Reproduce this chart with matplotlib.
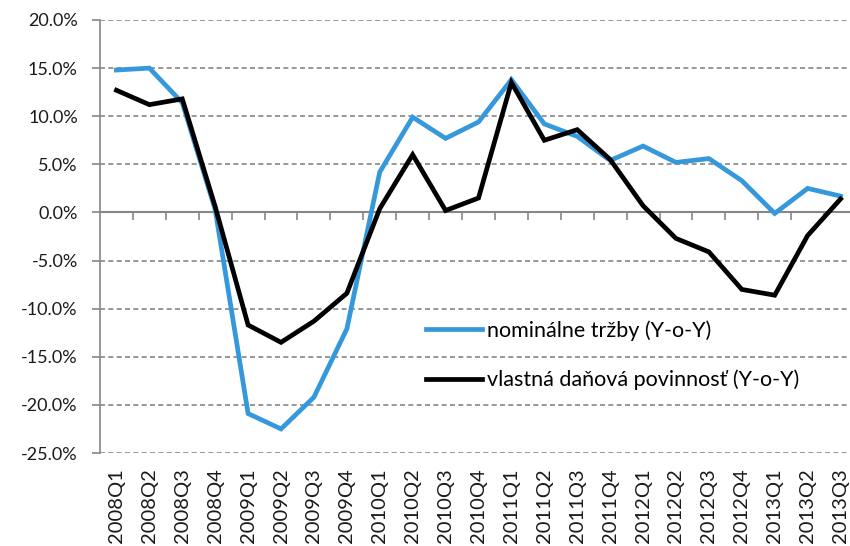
import numpy as np
import matplotlib.pyplot as plt
from matplotlib.ticker import FuncFormatter, MultipleLocator, FixedLocator

plt.rcParams['font.family'] = ['Lato', 'DejaVu Sans']

quarters = ['2008Q1', '2008Q2', '2008Q3', '2008Q4',
            '2009Q1', '2009Q2', '2009Q3', '2009Q4',
            '2010Q1', '2010Q2', '2010Q3', '2010Q4',
            '2011Q1', '2011Q2', '2011Q3', '2011Q4',
            '2012Q1', '2012Q2', '2012Q3', '2012Q4',
            '2013Q1', '2013Q2', '2013Q3']

# nominálne tržby (Y-o-Y), %
trzby = [14.8, 15.0, 11.4, 0.3,
         -20.9, -22.5, -19.2, -12.1,
         4.2, 9.9, 7.7, 9.4,
         13.8, 9.2, 7.9, 5.4,
         6.9, 5.2, 5.6, 3.3,
         -0.1, 2.5, 1.7]

# vlastná daňová povinnosť (Y-o-Y), %
dph = [12.7, 11.2, 11.8, 0.6,
       -11.7, -13.5, -11.3, -8.4,
       0.4, 6.0, 0.2, 1.5,
       13.5, 7.5, 8.6, 5.5,
       0.7, -2.7, -4.1, -8.0,
       -8.6, -2.4, 1.4]

ymin, ymax = -25, 20
grey = '#868686'

fig = plt.figure(figsize=(8.5, 5.46), dpi=100)
ax = fig.add_axes([100 / 850, 1 - 453 / 546, 757 / 850, (453 - 20) / 546])

x = np.arange(len(quarters))
ax.plot(x, trzby, color='#3498DB', lw=3.4, label='nominálne tržby (Y-o-Y)',
        solid_joinstyle='miter', zorder=3)
ax.plot(x, dph, color='black', lw=3.4, label='vlastná daňová povinnosť (Y-o-Y)',
        solid_joinstyle='miter', zorder=4)

ax.set_xlim(-0.5, len(quarters) - 0.5)
ax.set_ylim(ymin, ymax)

# y axis
ax.yaxis.set_major_locator(MultipleLocator(5))
ax.yaxis.set_major_formatter(FuncFormatter(lambda v, p: f'{v:.1f}%'))
ax.grid(axis='y', color=grey, linestyle=(0, (3, 2)), lw=1.2, zorder=1)
ax.tick_params(axis='y', length=6, width=1.2, color=grey,
               labelsize=13, labelcolor='#1a1a1a', pad=10)

for s in ['top', 'right', 'bottom']:
    ax.spines[s].set_visible(False)
ax.spines['left'].set_color(grey)
ax.spines['left'].set_linewidth(1.2)

# category labels at the bottom
ax.set_xticks(x)
ax.set_xticklabels(quarters, rotation=90)
ax.tick_params(axis='x', length=0, labelsize=14.5, labelcolor='#1a1a1a', pad=11)

# zero axis with boundary ticks
sec = ax.secondary_xaxis((0 - ymin) / (ymax - ymin))
for s in sec.spines.values():
    s.set_color(grey)
    s.set_linewidth(1.5)
sec.xaxis.set_major_locator(FixedLocator(x[:-1] + 0.5))
sec.tick_params(axis='x', direction='in', length=6, width=1.2, color=grey,
                labeltop=False, labelbottom=False)

ax.legend(loc='center left', bbox_to_anchor=(0.431, 0.226), frameon=False,
          fontsize=15.5, handlelength=2.6, handletextpad=0.2, labelspacing=1.35,
          borderpad=0, borderaxespad=0)

fig.savefig('out.png', dpi=100)
